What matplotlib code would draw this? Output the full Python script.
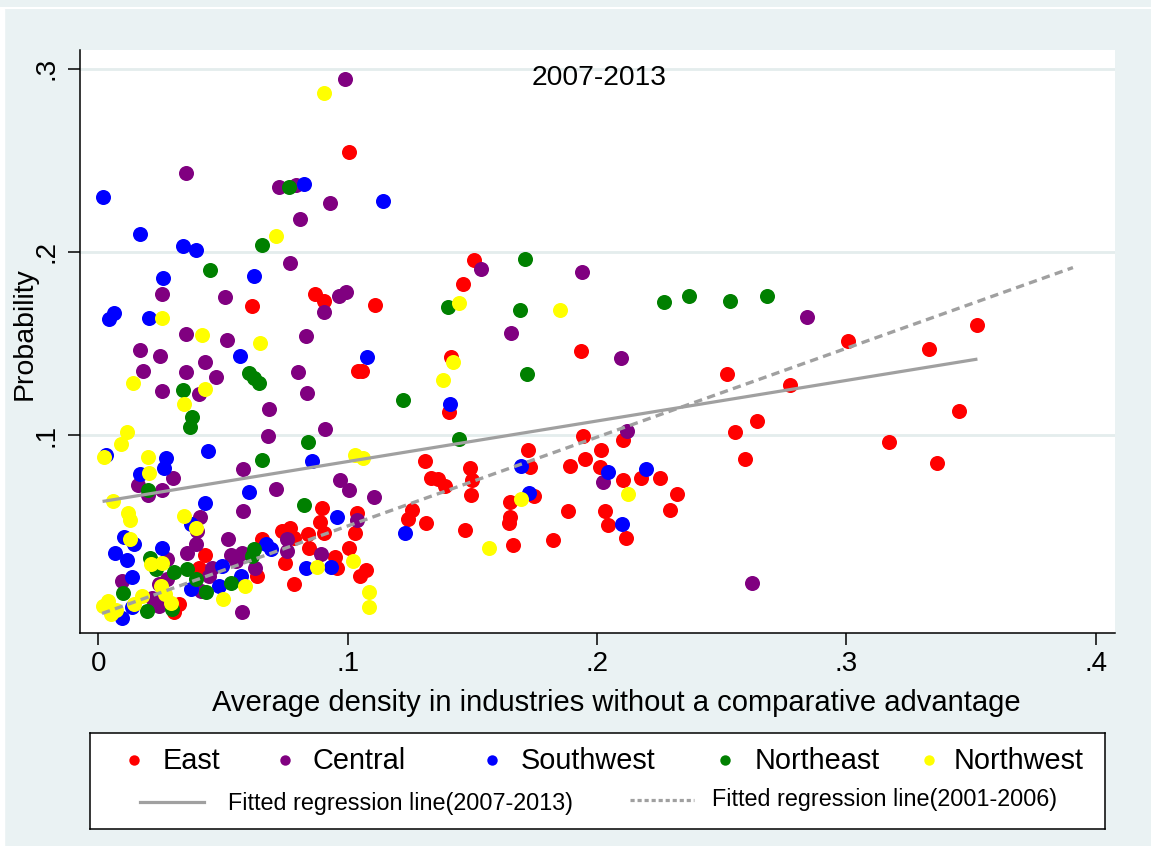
import numpy as np
import matplotlib
matplotlib.use("Agg")
import matplotlib.pyplot as plt
from matplotlib.lines import Line2D

plt.rcParams['font.family'] = ['Liberation Sans', 'DejaVu Sans']

# average density (x) and probability (y) by region, 2007-2013
east_x = [0.1005, 0.0867, 0.0904, 0.111, 0.0617, 0.1041, 0.1057, 0.0897, 0.0887, 0.0903,
          0.1037, 0.103, 0.0427, 0.0655, 0.0737, 0.0767, 0.0784, 0.0839, 0.0844, 0.1004,
          0.0951, 0.0957, 0.105, 0.1073, 0.075, 0.0784, 0.0637, 0.0404, 0.0324, 0.0304,
          0.1505, 0.1463, 0.1414, 0.1935, 0.1406, 0.2105, 0.1943, 0.1724, 0.2015, 0.1892,
          0.1951, 0.2012, 0.2105, 0.1732, 0.1308, 0.1332, 0.1361, 0.1389, 0.1492, 0.1499,
          0.1495, 0.1259, 0.1243, 0.1312, 0.1472, 0.1652, 0.1748, 0.1652, 0.1648, 0.1661,
          0.1823, 0.1885, 0.2032, 0.2045, 0.2116, 0.3005, 0.333, 0.3525, 0.252, 0.2772,
          0.3453, 0.2643, 0.2553, 0.3172, 0.2592, 0.3363, 0.2176, 0.2252, 0.2321, 0.2292]
east_y = [0.2544, 0.177, 0.173, 0.1712, 0.1707, 0.1349, 0.1349, 0.0604, 0.0528, 0.0468,
          0.0577, 0.0468, 0.0346, 0.0432, 0.0477, 0.0495, 0.044, 0.0462, 0.0386, 0.0383,
          0.0335, 0.0274, 0.0232, 0.0263, 0.0302, 0.0186, 0.0232, 0.0277, 0.0077, 0.0032,
          0.1957, 0.1825, 0.1425, 0.1458, 0.1125, 0.0971, 0.0993, 0.0918, 0.092, 0.0831,
          0.0869, 0.0827, 0.0755, 0.0827, 0.0858, 0.0764, 0.0759, 0.0722, 0.0819, 0.0755,
          0.0671, 0.0591, 0.0541, 0.0522, 0.0481, 0.0637, 0.0668, 0.0553, 0.0522, 0.04,
          0.0428, 0.0586, 0.0586, 0.0508, 0.044, 0.1516, 0.1472, 0.1603, 0.1331, 0.1271,
          0.1131, 0.1075, 0.1016, 0.0964, 0.0871, 0.0847, 0.0764, 0.0764, 0.068, 0.0593]

central_x = [0.0988, 0.0351, 0.0725, 0.0793, 0.0929, 0.0808, 0.0769, 0.0256, 0.0507, 0.0967,
             0.0993, 0.0904, 0.0353, 0.0515, 0.0833, 0.0169, 0.0249, 0.0428, 0.0181, 0.0353,
             0.047, 0.0801, 0.0836, 0.0255, 0.0404, 0.0684, 0.0679, 0.091, 0.03, 0.0161,
             0.0201, 0.0255, 0.0579, 0.0711, 0.0971, 0.1007, 0.1105, 0.1037, 0.0581, 0.0409,
             0.0397, 0.0521, 0.039, 0.0357, 0.0757, 0.0757, 0.0893, 0.0577, 0.0627, 0.0551,
             0.0577, 0.0531, 0.0457, 0.0444, 0.041, 0.0277, 0.0244, 0.0244, 0.0217, 0.0095,
             0.0277, 0.1536, 0.194, 0.1654, 0.2095, 0.2119, 0.2023, 0.2841, 0.2621]
central_y = [0.2944, 0.2432, 0.2352, 0.2366, 0.2266, 0.2181, 0.1937, 0.1772, 0.1754, 0.1757,
             0.1779, 0.167, 0.1554, 0.1521, 0.154, 0.1462, 0.1432, 0.14, 0.1349, 0.1345,
             0.1318, 0.1342, 0.1229, 0.1238, 0.1222, 0.1142, 0.0995, 0.1031, 0.0767, 0.0727,
             0.0673, 0.0699, 0.0816, 0.0706, 0.0755, 0.0702, 0.0664, 0.0535, 0.0584, 0.0555,
             0.0477, 0.0432, 0.0404, 0.0359, 0.0432, 0.0368, 0.035, 0.0032, 0.0274, 0.0313,
             0.0359, 0.0346, 0.0277, 0.0232, 0.015, 0.0214, 0.0186, 0.0068, 0.0113, 0.0204,
             0.0323, 0.1906, 0.1888, 0.1556, 0.1421, 0.1022, 0.0744, 0.1645, 0.0195]

southwest_x = [0.0017, 0.0824, 0.114, 0.0167, 0.0339, 0.0391, 0.0261, 0.0623, 0.0044, 0.0061,
               0.0204, 0.0568, 0.1079, 0.0857, 0.0031, 0.0439, 0.0271, 0.0264, 0.0168, 0.0604,
               0.0427, 0.0957, 0.037, 0.0103, 0.0144, 0.0257, 0.0671, 0.0691, 0.0833, 0.0932,
               0.0571, 0.0497, 0.0484, 0.037, 0.0137, 0.0137, 0.0097, 0.0068, 0.0117, 0.1409,
               0.2043, 0.1696, 0.1228, 0.1728, 0.21, 0.2195]
southwest_y = [0.2299, 0.2372, 0.2277, 0.2097, 0.2032, 0.2012, 0.1859, 0.187, 0.1636, 0.1666,
               0.1639, 0.1432, 0.1427, 0.0858, 0.0891, 0.0913, 0.0873, 0.0822, 0.0786, 0.069,
               0.0631, 0.0555, 0.0513, 0.0446, 0.0404, 0.0386, 0.0404, 0.0377, 0.0277, 0.0281,
               0.0232, 0.0286, 0.0177, 0.0159, 0.0223, 0.0059, 0.0004, 0.0359, 0.0317, 0.1171,
               0.0798, 0.0831, 0.0468, 0.0686, 0.0513, 0.0815]

northeast_x = [0.0764, 0.0657, 0.0447, 0.0604, 0.0624, 0.0644, 0.034, 0.0377, 0.0368, 0.0841,
               0.0657, 0.02, 0.0825, 0.0624, 0.0615, 0.0531, 0.0357, 0.039, 0.0431, 0.0304,
               0.0297, 0.0197, 0.0101, 0.0207, 0.0231, 0.1712, 0.1401, 0.1692, 0.1719, 0.1223,
               0.1445, 0.2268, 0.2368, 0.2531, 0.268]
northeast_y = [0.2355, 0.2039, 0.1899, 0.134, 0.1312, 0.1285, 0.1247, 0.11, 0.1045, 0.0964,
               0.0866, 0.0699, 0.062, 0.0377, 0.0341, 0.0192, 0.0268, 0.0214, 0.0141, 0.0255,
               0.005, 0.0041, 0.0137, 0.0331, 0.0268, 0.1963, 0.1699, 0.1681, 0.1331, 0.1191,
               0.0977, 0.1729, 0.1761, 0.1732, 0.1761]

northwest_x = [0.0905, 0.0711, 0.0257, 0.0417, 0.065, 0.0141, 0.0428, 0.0344, 0.0115, 0.0089,
               0.0024, 0.02, 0.0204, 0.103, 0.106, 0.0057, 0.0121, 0.0127, 0.0345, 0.039,
               0.0128, 0.0875, 0.1022, 0.1087, 0.1087, 0.0587, 0.05, 0.025, 0.0268, 0.0291,
               0.0177, 0.0144, 0.0037, 0.002, 0.0051, 0.0071, 0.0211, 0.0257, 0.1445, 0.1852,
               0.1422, 0.1381, 0.1565, 0.1695, 0.2125]
northwest_y = [0.2866, 0.2084, 0.1639, 0.1545, 0.1503, 0.1282, 0.1254, 0.1167, 0.1016, 0.0949,
               0.088, 0.0882, 0.0795, 0.0891, 0.0876, 0.064, 0.0573, 0.0537, 0.0559, 0.0495,
               0.0432, 0.0281, 0.0313, 0.0141, 0.0059, 0.0177, 0.0105, 0.0177, 0.0132, 0.0086,
               0.0123, 0.0077, 0.0095, 0.0068, 0.0023, 0.0045, 0.0295, 0.0304, 0.1721, 0.1681,
               0.1398, 0.1302, 0.0383, 0.065, 0.0677]

regions = ["East", "Central", "Southwest", "Northeast", "Northwest"]
region_colors = ["#ff0000", "#800080", "#0000ff", "#008000", "#ffff00"]

# fitted lines: intercept, slope
fit_2007 = [0.0634, 0.2215]
fit_2001 = [0.0019, 0.485]
fit_2001_range = [0.0015, 0.3908]

xticks = [0, 0.1, 0.2, 0.3, 0.4]
xtick_labels = ["0", ".1", ".2", ".3", ".4"]
yticks = [0.1, 0.2, 0.3]
ytick_labels = [".1", ".2", ".3"]

W, H = 1151, 846
BG = "#eaf2f3"


def px_box(left, top, right, bottom):
    return [left / W, 1 - bottom / H, (right - left) / W, (bottom - top) / H]


fig = plt.figure(figsize=(W / 100, H / 100), dpi=100, facecolor=BG)
fig.patches.append(plt.Rectangle((0, 0), 4 / W, 1 - 8.7 / H, transform=fig.transFigure,
                                 color="white", zorder=0))
fig.lines.append(Line2D([0, 1], [1 - 7.7 / H] * 2, transform=fig.transFigure,
                        color="white", lw=1.5))

ax = fig.add_axes(px_box(80, 50, 1115, 633.3))
ax.set_facecolor("white")
ax.set_xlim(-0.00734, 0.40766)
ax.set_ylim(-0.0082, 0.3102)
for yv in yticks:
    ax.axhline(yv, color="#e4eded", lw=2, zorder=0)

all_x = []
series = [(east_x, east_y), (central_x, central_y), (southwest_x, southwest_y),
          (northeast_x, northeast_y), (northwest_x, northwest_y)]
for (xs, ys), name, col in zip(series, regions, region_colors):
    ax.scatter(xs, ys, s=117, color=col, linewidths=0, label=name, zorder=2)
    all_x += xs

xfit = np.array([min(all_x), max(all_x)])
ax.plot(xfit, fit_2007[0] + fit_2007[1] * xfit, color="#a0a0a0", lw=2.3, zorder=3,
        solid_capstyle="butt")
xold = np.array(fit_2001_range)
ax.plot(xold, fit_2001[0] + fit_2001[1] * xold, color="#a0a0a0", lw=2.4, zorder=3,
        linestyle=(0, (2.5, 1.6)))

for side in ["top", "right"]:
    ax.spines[side].set_visible(False)
for side in ["left", "bottom"]:
    ax.spines[side].set_linewidth(1.1)
ax.set_xticks(xticks, xtick_labels)
ax.set_yticks(yticks, ytick_labels)
ax.tick_params(length=8.6, width=1.1, labelsize=20, direction="out")
ax.tick_params(axis="x", pad=4)
ax.tick_params(axis="y", pad=6)
for lab in ax.get_yticklabels():
    lab.set_rotation(90)
    lab.set_va("center")

fig.text(599 / W, 1 - 78 / H, "2007-2013", fontsize=20.3, ha="center", va="center")
fig.text(616.5 / W, 1 - 703 / H, "Average density in industries without a comparative advantage",
         fontsize=21, ha="center", va="center")
fig.text(25 / W, 1 - 333.5 / H, "Probability", fontsize=20.5, rotation=90,
         ha="center", va="center")

# legend box
lax = fig.add_axes(px_box(90, 733, 1105, 829))
lax.set_xlim(90, 1105)
lax.set_ylim(829, 733)
lax.set_xticks([])
lax.set_yticks([])
for sp in lax.spines.values():
    sp.set_linewidth(1.1)

marker_x = [134, 285, 492, 725, 929]
text_x = [163, 313, 521, 755, 954]
for mx, tx, name, col in zip(marker_x, text_x, regions, region_colors):
    lax.plot([mx], [760], "o", ms=7.5, color=col, mew=0)
    lax.text(tx, 761, name, fontsize=20.8, va="center", ha="left")

lax.plot([140, 204], [802, 802], color="#a0a0a0", lw=2.3)
lax.text(228, 803, "Fitted regression line(2007-2013)", fontsize=16.8, va="center", ha="left")
lax.plot([630, 694], [800, 800], color="#a0a0a0", lw=2.3, linestyle=(0, (1.3, 0.9)))
lax.text(712, 799, "Fitted regression line(2001-2006)", fontsize=16.8, va="center", ha="left")

fig.savefig("out.png", dpi=100, facecolor=BG)
